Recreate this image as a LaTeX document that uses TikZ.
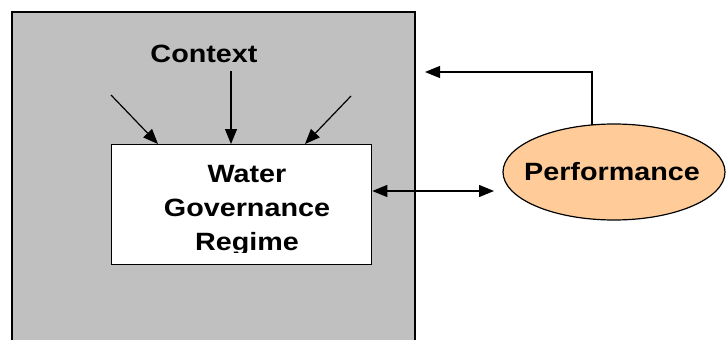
\documentclass[tikz,border=0pt]{standalone}
\usepackage{fontspec}
\setmainfont{Liberation Sans}[FakeStretch=1.15]
\usetikzlibrary{arrows.meta,shapes.geometric}
\definecolor{panelgray}{HTML}{C0C0C0}
\definecolor{peach}{HTML}{FFCC99}
\tikzset{
  edge/.style={line width=1.2pt},
  arr/.style={edge,-{Triangle[length=15pt,width=12pt]}},
  darr/.style={edge,{Triangle[length=15pt,width=12pt]}-{Triangle[length=15pt,width=12pt]}},
  label/.style={font=\fontsize{25}{34}\selectfont\bfseries,inner sep=0pt},
}
\begin{document}
\begin{tikzpicture}[x=1pt,y=-1pt]
\useasboundingbox (0,0) rectangle (726,340);
% context panel, open at the bottom
\fill[panelgray] (12,12) rectangle (415,345);
\draw[edge] (12,345) -- (12,12) -- (415,12) -- (415,345);
% regime box
\node[draw,fill=white,line width=1.3pt,minimum width=260pt,minimum height=120pt,inner sep=0pt,anchor=north west] (wgr) at (111,144) {};
\begin{scope}
\clip (111,144) rectangle (371,252.5);
\node[label,align=center,anchor=base] (wgrtext) at (247,250) {Water\\Governance\\Regime};
\end{scope}
\node[label,anchor=base] (ctx) at (204,62) {Context};
% context arrows
\coordinate (cl) at (111,95);
\coordinate (cm) at (231,71);
\coordinate (cr) at (351,96);
\draw[arr] (cl) -- (158,144);
\draw[arr] (cm) -- (wgr.north -| cm);
\draw[arr] (cr) -- (305,144);
% performance
\node[draw,ellipse,fill=peach,line width=1.2pt,minimum width=222pt,minimum height=96pt,inner sep=0pt] (perf) at (614,172) {};
\node[label,anchor=base] (perftext) at (612,180) {Performance};
\coordinate (pe) at (494,191);
\draw[darr] (wgr.east |- pe) -- (pe);
% feedback to the context
\coordinate (fbs) at (592,125);
\coordinate (fbe) at (425,72);
\draw[arr] (fbs) |- (fbe);
\end{tikzpicture}
\end{document}
